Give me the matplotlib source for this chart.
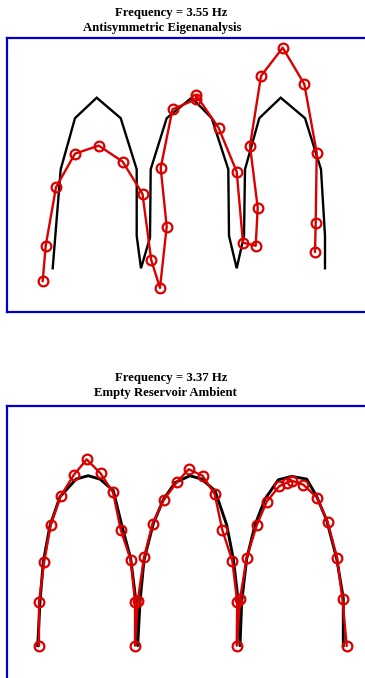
import matplotlib
matplotlib.use("Agg")
import matplotlib.pyplot as plt

# ---------------- data (normalised crest displacement) ----------------
# Top panel: Antisymmetric Eigenanalysis (black = computed mode, red = measured)
top_model_x = [52.7, 60.7, 75.0, 96.7, 120.7, 136.7, 136.7, 141.0, 150.0, 150.7,
               166.7, 191.7, 211.7, 228.3, 229.0, 236.7, 244.0, 245.0, 259.3,
               280.7, 305.0, 321.0, 325.0, 325.0]
top_model_y = [0.0, 0.58, 0.88, 1.0, 0.88, 0.58, 0.19, 0.0, 0.18, 0.58,
               0.88, 1.0, 0.88, 0.58, 0.19, 0.0, 0.19, 0.58, 0.88,
               1.0, 0.88, 0.58, 0.19, 0.0]
top_meas_x = [42.7, 45.7, 56.0, 75.0, 98.7, 122.7, 142.5, 151.2, 160.0, 166.7,
              160.7, 172.5, 196.0, 196.0, 218.5, 236.7, 243.0, 255.7, 257.7,
              250.0, 261.0, 282.7, 304.3, 316.7, 315.7, 315.0]
top_meas_y = [-0.074, 0.132, 0.475, 0.672, 0.719, 0.625, 0.436, 0.049, -0.115, 0.244,
              0.588, 0.932, 0.991, 1.016, 0.825, 0.566, 0.150, 0.132, 0.355,
              0.719, 1.127, 1.293, 1.080, 0.678, 0.264, 0.097]

# Bottom panel: Empty Reservoir Ambient
bot_model_x = [37.7, 40.0, 43.3, 50.0, 60.0, 76.0, 88.3, 100.0, 113.3, 121.7, 130.7, 136.0, 137.7,
               140.0, 144.0, 153.3, 163.3, 175.0, 190.0, 201.7, 215.0, 226.7, 233.3, 238.3, 240.0,
               241.7, 246.7, 255.0, 265.0, 278.3, 291.7, 306.7, 316.7, 326.7, 336.7, 343.3, 343.3]
bot_model_y = [0.0, 0.259, 0.494, 0.706, 0.876, 0.98, 1.0, 0.98, 0.912, 0.71, 0.512, 0.259, 0.0,
               0.259, 0.504, 0.718, 0.859, 0.959, 1.0, 0.98, 0.912, 0.71, 0.512, 0.259, 0.0,
               0.259, 0.512, 0.71, 0.863, 0.976, 0.996, 0.98, 0.878, 0.737, 0.512, 0.279, 0.0]
bot_meas_x = [39.0, 39.0, 44.2, 50.8, 60.8, 74.0, 86.7, 100.5, 113.0, 120.7, 130.7, 135.0, 135.0,
              137.7, 144.0, 152.5, 163.7, 177.0, 188.7, 202.5, 214.7, 222.2, 232.3, 237.2, 236.7,
              240.0, 246.7, 256.7, 266.7, 279.2, 287.0, 291.7, 303.3, 317.0, 327.7, 337.0, 342.5, 346.7]
bot_meas_y = [0.0, 0.259, 0.494, 0.712, 0.882, 1.006, 1.096, 1.014, 0.902, 0.683, 0.504, 0.259, 0.0,
              0.265, 0.519, 0.718, 0.857, 0.963, 1.038, 1.0, 0.892, 0.683, 0.499, 0.259, 0.0,
              0.273, 0.518, 0.708, 0.847, 0.938, 0.96, 0.971, 0.947, 0.871, 0.726, 0.518, 0.273, 0.0]

titles_top = ["Frequency = 3.55 Hz", "Antisymmetric Eigenanalysis"]
titles_bot = ["Frequency = 3.37 Hz", "Empty Reservoir Ambient"]

# ---------------- figure ----------------
W, H = 365, 678
fig = plt.figure(figsize=(W / 100, H / 100), dpi=100)
plt.rcParams['font.family'] = ['Liberation Serif', 'DejaVu Serif']

RED = '#DA0000'
BLUE = '#0000CC'


def add_panel(top_px, bottom_px, ylim):
    left_px, right_px = 7.0, 380.0
    ax = fig.add_axes([left_px / W, 1 - bottom_px / H,
                       (right_px - left_px) / W, (bottom_px - top_px) / H])
    ax.set_xlim(left_px, right_px)
    ax.set_ylim(*ylim)
    ax.set_xticks([])
    ax.set_yticks([])
    for s in ax.spines.values():
        s.set_color(BLUE)
        s.set_linewidth(1.6)
    return ax


ax1 = add_panel(37.7, 311.7, (-0.2544, 1.3517))
ax1.plot(top_model_x, top_model_y, color='black', lw=1.7, solid_joinstyle='miter')
ax1.plot(top_meas_x, top_meas_y, color=RED, lw=1.7, marker='o', ms=7,
         mfc='none', mec=RED, mew=1.6)

ax2 = add_panel(405.7, 679.7, (-0.2, 1.4118))
ax2.plot(bot_model_x, bot_model_y, color='black', lw=2.1)
ax2.plot(bot_meas_x, bot_meas_y, color=RED, lw=1.7, marker='o', ms=7,
         mfc='none', mec=RED, mew=1.6)

fs = 9.2
fig.text(171 / W, 1 - 12.7 / H, titles_top[0], ha='center', va='center',
         fontsize=fs, fontweight='bold')
fig.text(162 / W, 1 - 28.3 / H, titles_top[1], ha='center', va='center',
         fontsize=fs, fontweight='bold')
fig.text(171 / W, 1 - 378.3 / H, titles_bot[0], ha='center', va='center',
         fontsize=fs, fontweight='bold')
fig.text(165.3 / W, 1 - 393.3 / H, titles_bot[1], ha='center', va='center',
         fontsize=fs, fontweight='bold')

fig.savefig('out.png', dpi=100)
